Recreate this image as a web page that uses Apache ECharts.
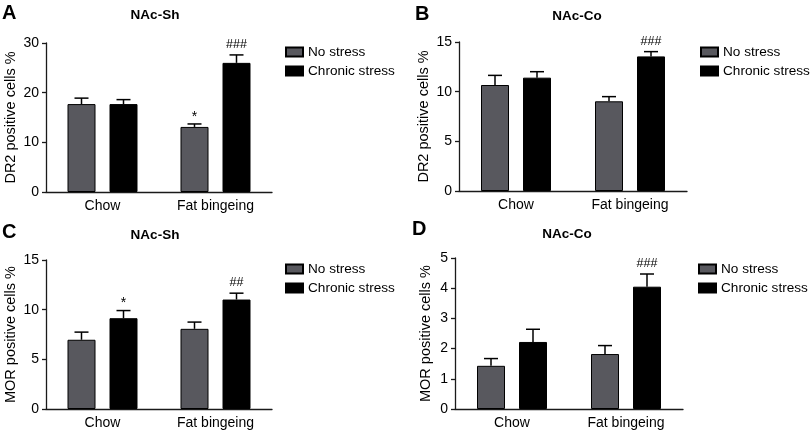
<!DOCTYPE html>
<html>
<head>
<meta charset="utf-8">
<script src="https://cdn.jsdelivr.net/npm/echarts@6/dist/echarts.min.js"></script>
<style>
html,body{margin:0;padding:0;background:#fff;}
#chart{width:810px;height:435px;}
</style>
</head>
<body>
<div id="chart"></div>
<script>
// ---- data ----
var categories = ['Chow', 'Fat bingeing'];
var seriesNames = ['No stress', 'Chronic stress'];

var panelLetters = ['A', 'B', 'C', 'D'];
var panelTitles = ['NAc-Sh', 'NAc-Co', 'NAc-Sh', 'NAc-Co'];
var yNames = ['DR2 positive cells %', 'DR2 positive cells %', 'MOR positive cells %', 'MOR positive cells %'];
var yMax = [30, 15, 15, 5];
var yInterval = [10, 5, 5, 1];

var aNoStress = [17.7, 13.1];
var aNoStressSem = [1.2, 0.6];
var aChronic = [17.7, 26.0];
var aChronicSem = [0.9, 1.6];
var aMarksNo = ['', '*'];
var aMarksCh = ['', '###'];

var bNoStress = [10.67, 9.03];
var bNoStressSem = [0.97, 0.47];
var bChronic = [11.41, 13.55];
var bChronicSem = [0.6, 0.48];
var bMarksNo = ['', ''];
var bMarksCh = ['', '###'];

var cNoStress = [6.97, 8.07];
var cNoStressSem = [0.77, 0.68];
var cChronic = [9.14, 11.02];
var cChronicSem = [0.77, 0.64];
var cMarksNo = ['', ''];
var cMarksCh = ['*', '##'];

var dNoStress = [1.43, 1.82];
var dNoStressSem = [0.24, 0.28];
var dChronic = [2.22, 4.05];
var dChronicSem = [0.42, 0.42];
var dMarksNo = ['', ''];
var dMarksCh = ['', '###'];

// ---- layout / style ----
var FONT = 'Liberation Sans, Arial, Helvetica, sans-serif';
var FS = 14;
var BAR_W = 28;
var BAR_GAP = 0.5;
var GRAY = '#58585e';
var AXIS = '#1a1a1a';

var grids = [
  {left: 46, top: 43, width: 226, height: 149},
  {left: 459, top: 42, width: 228, height: 149},
  {left: 46, top: 260, width: 226, height: 149},
  {left: 455, top: 258, width: 228, height: 151}
];
var nameGaps = [28, 28, 28, 22];
var legendPos = [[285, 45], [700, 45], [285, 262], [698, 262]];
var titlePos = [[155, 15], [577, 16], [155, 235], [567, 234]];
var letterPos = [[2, 13], [415, 14], [2, 232], [412, 229]];

var panels = [
  [aNoStress, aNoStressSem, aMarksNo, aChronic, aChronicSem, aMarksCh],
  [bNoStress, bNoStressSem, bMarksNo, bChronic, bChronicSem, bMarksCh],
  [cNoStress, cNoStressSem, cMarksNo, cChronic, cChronicSem, cMarksCh],
  [dNoStress, dNoStressSem, dMarksNo, dChronic, dChronicSem, dMarksCh]
];

var chart = echarts.init(document.getElementById('chart'), null, {renderer: 'canvas'});

var xAxes = [], yAxes = [], series = [], legends = [], graphics = [];

function errRender(offsetSign, marks) {
  return function (params, api) {
    var idx = api.value(0);
    var mean = api.value(1);
    var sem = api.value(2);
    var mark = marks[params.dataIndex];
    var off = offsetSign * (BAR_W + BAR_W * BAR_GAP) / 2;
    var base = api.coord([idx, mean]);
    var top = api.coord([idx, mean + sem]);
    var x = base[0] + off;
    var children = [
      {type: 'line', shape: {x1: x, y1: base[1], x2: x, y2: top[1]},
       style: {stroke: '#000', lineWidth: 1.5}},
      {type: 'line', shape: {x1: x - BAR_W / 4, y1: top[1], x2: x + BAR_W / 4, y2: top[1]},
       style: {stroke: '#000', lineWidth: 1.5}}
    ];
    if (mark) {
      children.push({type: 'text', style: {
        text: mark, x: x, y: top[1] - (mark === '*' ? 0 : 4),
        textAlign: 'center', textVerticalAlign: 'bottom',
        font: (mark === '*' ? '14px ' : '12.5px ') + FONT, fill: '#000'}});
    }
    return {type: 'group', children: children};
  };
}

panels.forEach(function (p, i) {
  xAxes.push({
    type: 'category', gridIndex: i, data: categories,
    axisLine: {lineStyle: {color: AXIS, width: 1.3}},
    axisTick: {alignWithLabel: true, length: 4, lineStyle: {color: AXIS, width: 1.3}},
    axisLabel: {color: '#000', fontSize: FS, fontFamily: FONT, margin: 7}
  });
  yAxes.push({
    type: 'value', gridIndex: i, min: 0, max: yMax[i], interval: yInterval[i],
    name: yNames[i], nameLocation: 'middle', nameGap: nameGaps[i],
    nameTextStyle: {color: '#000', fontSize: 14.5, fontFamily: FONT},
    axisLine: {show: true, lineStyle: {color: AXIS, width: 1.3}},
    axisTick: {show: true, length: 4, lineStyle: {color: AXIS, width: 1.3}},
    axisLabel: {color: '#000', fontSize: FS, fontFamily: FONT, margin: 7},
    splitLine: {show: false}
  });
  var ns = p[0], nsSem = p[1], nsMarks = p[2], ch = p[3], chSem = p[4], chMarks = p[5];
  series.push({
    type: 'bar', name: seriesNames[0], xAxisIndex: i, yAxisIndex: i,
    data: ns, barWidth: BAR_W, barGap: (BAR_GAP * 100) + '%',
    itemStyle: {color: GRAY, borderColor: '#000', borderWidth: 1},
    silent: true, animation: false
  });
  series.push({
    type: 'bar', name: seriesNames[1], xAxisIndex: i, yAxisIndex: i,
    data: ch, barWidth: BAR_W, barGap: (BAR_GAP * 100) + '%',
    itemStyle: {color: '#000', borderColor: '#000', borderWidth: 1},
    silent: true, animation: false
  });
  series.push({
    type: 'custom', xAxisIndex: i, yAxisIndex: i, z: 5, animation: false, silent: true,
    renderItem: errRender(-1, nsMarks),
    data: ns.map(function (v, k) { return [k, v, nsSem[k]]; })
  });
  series.push({
    type: 'custom', xAxisIndex: i, yAxisIndex: i, z: 5, animation: false, silent: true,
    renderItem: errRender(1, chMarks),
    data: ch.map(function (v, k) { return [k, v, chSem[k]]; })
  });
  legends.push({
    orient: 'vertical', left: legendPos[i][0], top: legendPos[i][1],
    data: seriesNames, itemWidth: 17, itemHeight: 9, itemGap: 5, padding: 0,
    selectedMode: false, icon: 'rect',
    textStyle: {color: '#000', fontSize: 13.6, fontFamily: FONT, lineHeight: 14}
  });
  graphics.push({
    type: 'text', left: letterPos[i][0], top: letterPos[i][1] - 10,
    style: {text: panelLetters[i], font: 'bold 20px ' + FONT, fill: '#000'}
  });
  graphics.push({
    type: 'text', x: titlePos[i][0], y: titlePos[i][1],
    style: {text: panelTitles[i], font: 'bold 13.5px ' + FONT, fill: '#000',
            textAlign: 'center', textVerticalAlign: 'middle'}
  });
});

chart.setOption({
  backgroundColor: '#fff',
  animation: false,
  grid: grids,
  xAxis: xAxes,
  yAxis: yAxes,
  legend: legends,
  series: series,
  graphic: graphics
});
</script>
</body>
</html>
